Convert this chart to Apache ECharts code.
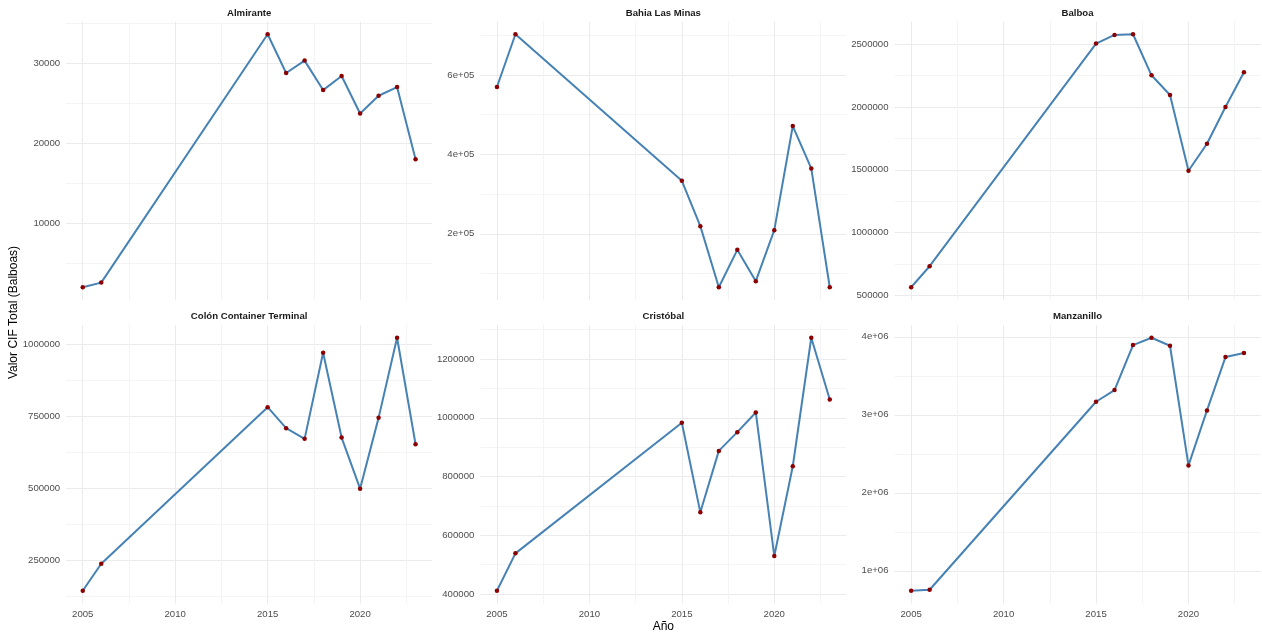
<!DOCTYPE html>
<html>
<head>
<meta charset="utf-8">
<script src="https://cdn.jsdelivr.net/npm/echarts@6/dist/echarts.min.js"></script>
<style>
html,body{margin:0;padding:0;background:#fff;}
#chart{width:1262px;height:635px;}
</style>
</head>
<body>
<div id="chart"></div>
<script>
// ---------------- data ----------------
const years = [2005, 2006, 2015, 2016, 2017, 2018, 2019, 2020, 2021, 2022, 2023];

const panelNames = ['Almirante', 'Bahia Las Minas', 'Balboa', 'Colón Container Terminal', 'Cristóbal', 'Manzanillo'];

const almirante  = [1970, 2550, 33640, 28790, 30340, 26650, 28410, 23720, 25940, 27030, 17990];
const bahia      = [569700, 702500, 333600, 219300, 65500, 159700, 80700, 209200, 471400, 364700, 65500];
const balboa     = [563800, 731400, 2505300, 2574500, 2579800, 2252700, 2095700, 1492000, 1707400, 2000000, 2276600];
const colon      = [144800, 238400, 781200, 708400, 671400, 970000, 676000, 498800, 744200, 1022000, 652900];
const cristobal  = [411350, 538700, 983000, 678300, 887400, 951200, 1018200, 529600, 835200, 1272600, 1062400];
const manzanillo = [743600, 756400, 3166700, 3316200, 3893200, 3987200, 3884600, 2350400, 3055600, 3739300, 3790600];

const xTicks = [2005, 2010, 2015, 2020];
const xTickLabels = ['2005', '2010', '2015', '2020'];

const almiranteTicks  = [10000, 20000, 30000];
const almiranteLabels = ['10000', '20000', '30000'];
const bahiaTicks  = [200000, 400000, 600000];
const bahiaLabels = ['2e+05', '4e+05', '6e+05'];
const balboaTicks  = [500000, 1000000, 1500000, 2000000, 2500000];
const balboaLabels = ['500000', '1000000', '1500000', '2000000', '2500000'];
const colonTicks  = [250000, 500000, 750000, 1000000];
const colonLabels = ['250000', '500000', '750000', '1000000'];
const cristobalTicks  = [400000, 600000, 800000, 1000000, 1200000];
const cristobalLabels = ['400000', '600000', '800000', '1000000', '1200000'];
const manzanilloTicks  = [1000000, 2000000, 3000000, 4000000];
const manzanilloLabels = ['1e+06', '2e+06', '3e+06', '4e+06'];

const axisTitleY = 'Valor CIF Total (Balboas)';
const axisTitleX = 'Año';

// ---------------- layout / style ----------------
const panelValues = [almirante, bahia, balboa, colon, cristobal, manzanillo];
const panelTicks  = [almiranteTicks, bahiaTicks, balboaTicks, colonTicks, cristobalTicks, manzanilloTicks];
const panelLabels = [almiranteLabels, bahiaLabels, balboaLabels, colonLabels, cristobalLabels, manzanilloLabels];

const FONT = "'Liberation Sans', Arial, sans-serif";
const MAJ = '#EBEBEB', MIN = '#F4F4F4';
const colLeft = [66.1, 480.3, 894.5];
const rowTop = [21.6, 325.1];
const pw = 366.1, ph = 278.3;

function expand(arr) {
  const lo = Math.min(...arr), hi = Math.max(...arr);
  const d = (hi - lo) * 0.05;
  return [lo - d, hi + d];
}
function lineColors(min, minor) {
  const k = Math.ceil(min / minor - 1e-9);
  return (k % 2 === 0) ? [MAJ, MIN] : [MIN, MAJ];
}
function makeFormatter(ticks, labels, step) {
  return function (v) {
    for (let i = 0; i < ticks.length; i++) {
      if (Math.abs(ticks[i] - v) < step * 1e-6) return labels[i];
    }
    return '';
  };
}

const grids = [], xAxes = [], yAxes = [], series = [], titles = [];
const xr = expand(years);
const xMinor = (xTicks[1] - xTicks[0]) / 2;

for (let p = 0; p < 6; p++) {
  const col = p % 3, row = Math.floor(p / 3);
  grids.push({left: colLeft[col], top: rowTop[row], width: pw, height: ph, containLabel: false});
  xAxes.push({
    type: 'value', gridIndex: p, min: xr[0], max: xr[1],
    minInterval: xMinor, maxInterval: xMinor,
    axisLine: {show: false}, axisTick: {show: false},
    axisLabel: {
      show: row === 1, margin: 6, color: '#4D4D4D', fontSize: 9.6, fontFamily: FONT,
      showMinLabel: false, showMaxLabel: false,
      formatter: makeFormatter(xTicks, xTickLabels, xMinor)
    },
    splitLine: {show: true, showMinLine: false, showMaxLine: false,
      lineStyle: {color: lineColors(xr[0], xMinor), width: 1}}
  });
  const yr = expand(panelValues[p]);
  const tk = panelTicks[p];
  const yMinor = (tk[1] - tk[0]) / 2;
  yAxes.push({
    type: 'value', gridIndex: p, min: yr[0], max: yr[1],
    minInterval: yMinor, maxInterval: yMinor,
    axisLine: {show: false}, axisTick: {show: false},
    axisLabel: {
      margin: 6, color: '#4D4D4D', fontSize: 9.6, fontFamily: FONT,
      showMinLabel: false, showMaxLabel: false,
      formatter: makeFormatter(tk, panelLabels[p], yMinor)
    },
    splitLine: {show: true, showMinLine: false, showMaxLine: false,
      lineStyle: {color: lineColors(yr[0], yMinor), width: 1}}
  });
  series.push({
    type: 'line', xAxisIndex: p, yAxisIndex: p,
    data: years.map((y, i) => [y, panelValues[p][i]]),
    symbol: 'circle', symbolSize: 4.5, showSymbol: true,
    lineStyle: {color: '#4682B4', width: 2},
    itemStyle: {color: '#8B0000', borderWidth: 0},
    z: 3
  });
  titles.push({
    text: panelNames[p], left: colLeft[col] + pw / 2, top: row === 0 ? 7.5 : 310.7,
    textAlign: 'center', padding: 0,
    textStyle: {fontSize: 9.6, fontWeight: 'bold', color: '#1A1A1A', fontFamily: FONT, lineHeight: 12}
  });
}

titles.push({
  text: axisTitleX, left: colLeft[0] + (colLeft[2] + pw - colLeft[0]) / 2, top: 620,
  textAlign: 'center', padding: 0,
  textStyle: {fontSize: 12, fontWeight: 'normal', color: '#000', fontFamily: FONT, lineHeight: 14}
});

const chart = echarts.init(document.getElementById('chart'), null, {renderer: 'canvas'});
chart.setOption({
  animation: false,
  backgroundColor: '#fff',
  title: titles,
  grid: grids,
  xAxis: xAxes,
  yAxis: yAxes,
  series: series,
  graphic: [{
    type: 'text', x: 14, y: (rowTop[0] + rowTop[1] + ph) / 2, rotation: Math.PI / 2,
    style: {text: axisTitleY, font: '12px ' + FONT, fill: '#000', align: 'center', verticalAlign: 'middle'}
  }]
});
</script>
</body>
</html>
